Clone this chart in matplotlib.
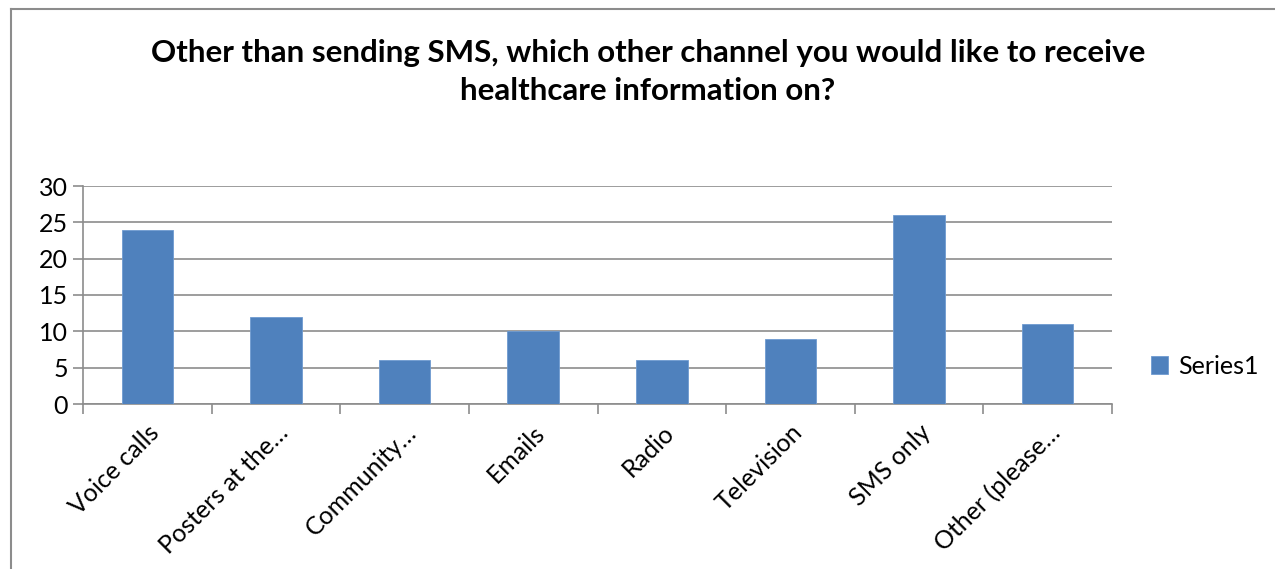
import matplotlib.pyplot as plt
from matplotlib.lines import Line2D

categories = ["Voice calls", "Posters at the…", "Community…", "Emails",
              "Radio", "Television", "SMS only", "Other (please…"]
values = [24, 12, 6, 10, 6, 9, 26, 11]
yticks = [0, 5, 10, 15, 20, 25, 30]

plt.rcParams["font.family"] = ["Lato", "DejaVu Sans"]

W, H = 1275, 569
fig = plt.figure(figsize=(W / 100, H / 100), dpi=100)

# chart frame (left and top edges visible)
fig.add_artist(Line2D([11 / W, 11 / W], [0, 1 - 9 / H], color="#8c8c8c", lw=1.5))
fig.add_artist(Line2D([11 / W, 1], [1 - 9 / H, 1 - 9 / H], color="#8c8c8c", lw=1.5))

ax = fig.add_axes([83 / W, 1 - 404 / H, (1112 - 83) / W, (404 - 186) / H])

x = list(range(len(categories)))
ax.bar(x, values, width=0.4, color="#4f81bd", edgecolor="#6f9bd0", linewidth=0.6,
       label="Series1", zorder=3)

ax.set_xlim(-0.5, len(categories) - 0.5)
ax.set_ylim(0, 30)
ax.set_yticks(yticks)
ax.yaxis.grid(True, color="#8c8c8c", lw=1.2, zorder=0)

ax.set_xticks([i - 0.5 for i in range(len(categories) + 1)])
ax.set_xticklabels([])
ax.set_xticks(x, minor=True)
ax.set_xticklabels(categories, minor=True, rotation=45, ha="right",
                   rotation_mode="anchor", fontsize=18)
ax.tick_params(axis="x", which="minor", length=0, pad=12)
ax.tick_params(axis="x", which="major", length=7, color="#8c8c8c", width=1.2)
ax.tick_params(axis="y", length=7, color="#8c8c8c", width=1.2, labelsize=18, pad=4)

for s in ["top", "right"]:
    ax.spines[s].set_visible(False)
for s in ["left", "bottom"]:
    ax.spines[s].set_color("#8c8c8c")
    ax.spines[s].set_linewidth(1.2)

fig.text(648 / W, 1 - 72 / H,
         "Other than sending SMS, which other channel you would like to receive\nhealthcare information on?",
         ha="center", va="center", fontsize=22.5, fontweight="bold", linespacing=1.4)

fig.legend(loc="center left", bbox_to_anchor=(1128 / W, 1 - 366 / H), frameon=False,
           fontsize=18, handlelength=0.7, handleheight=0.7, handletextpad=0.4)

fig.savefig("out.png", dpi=100)
